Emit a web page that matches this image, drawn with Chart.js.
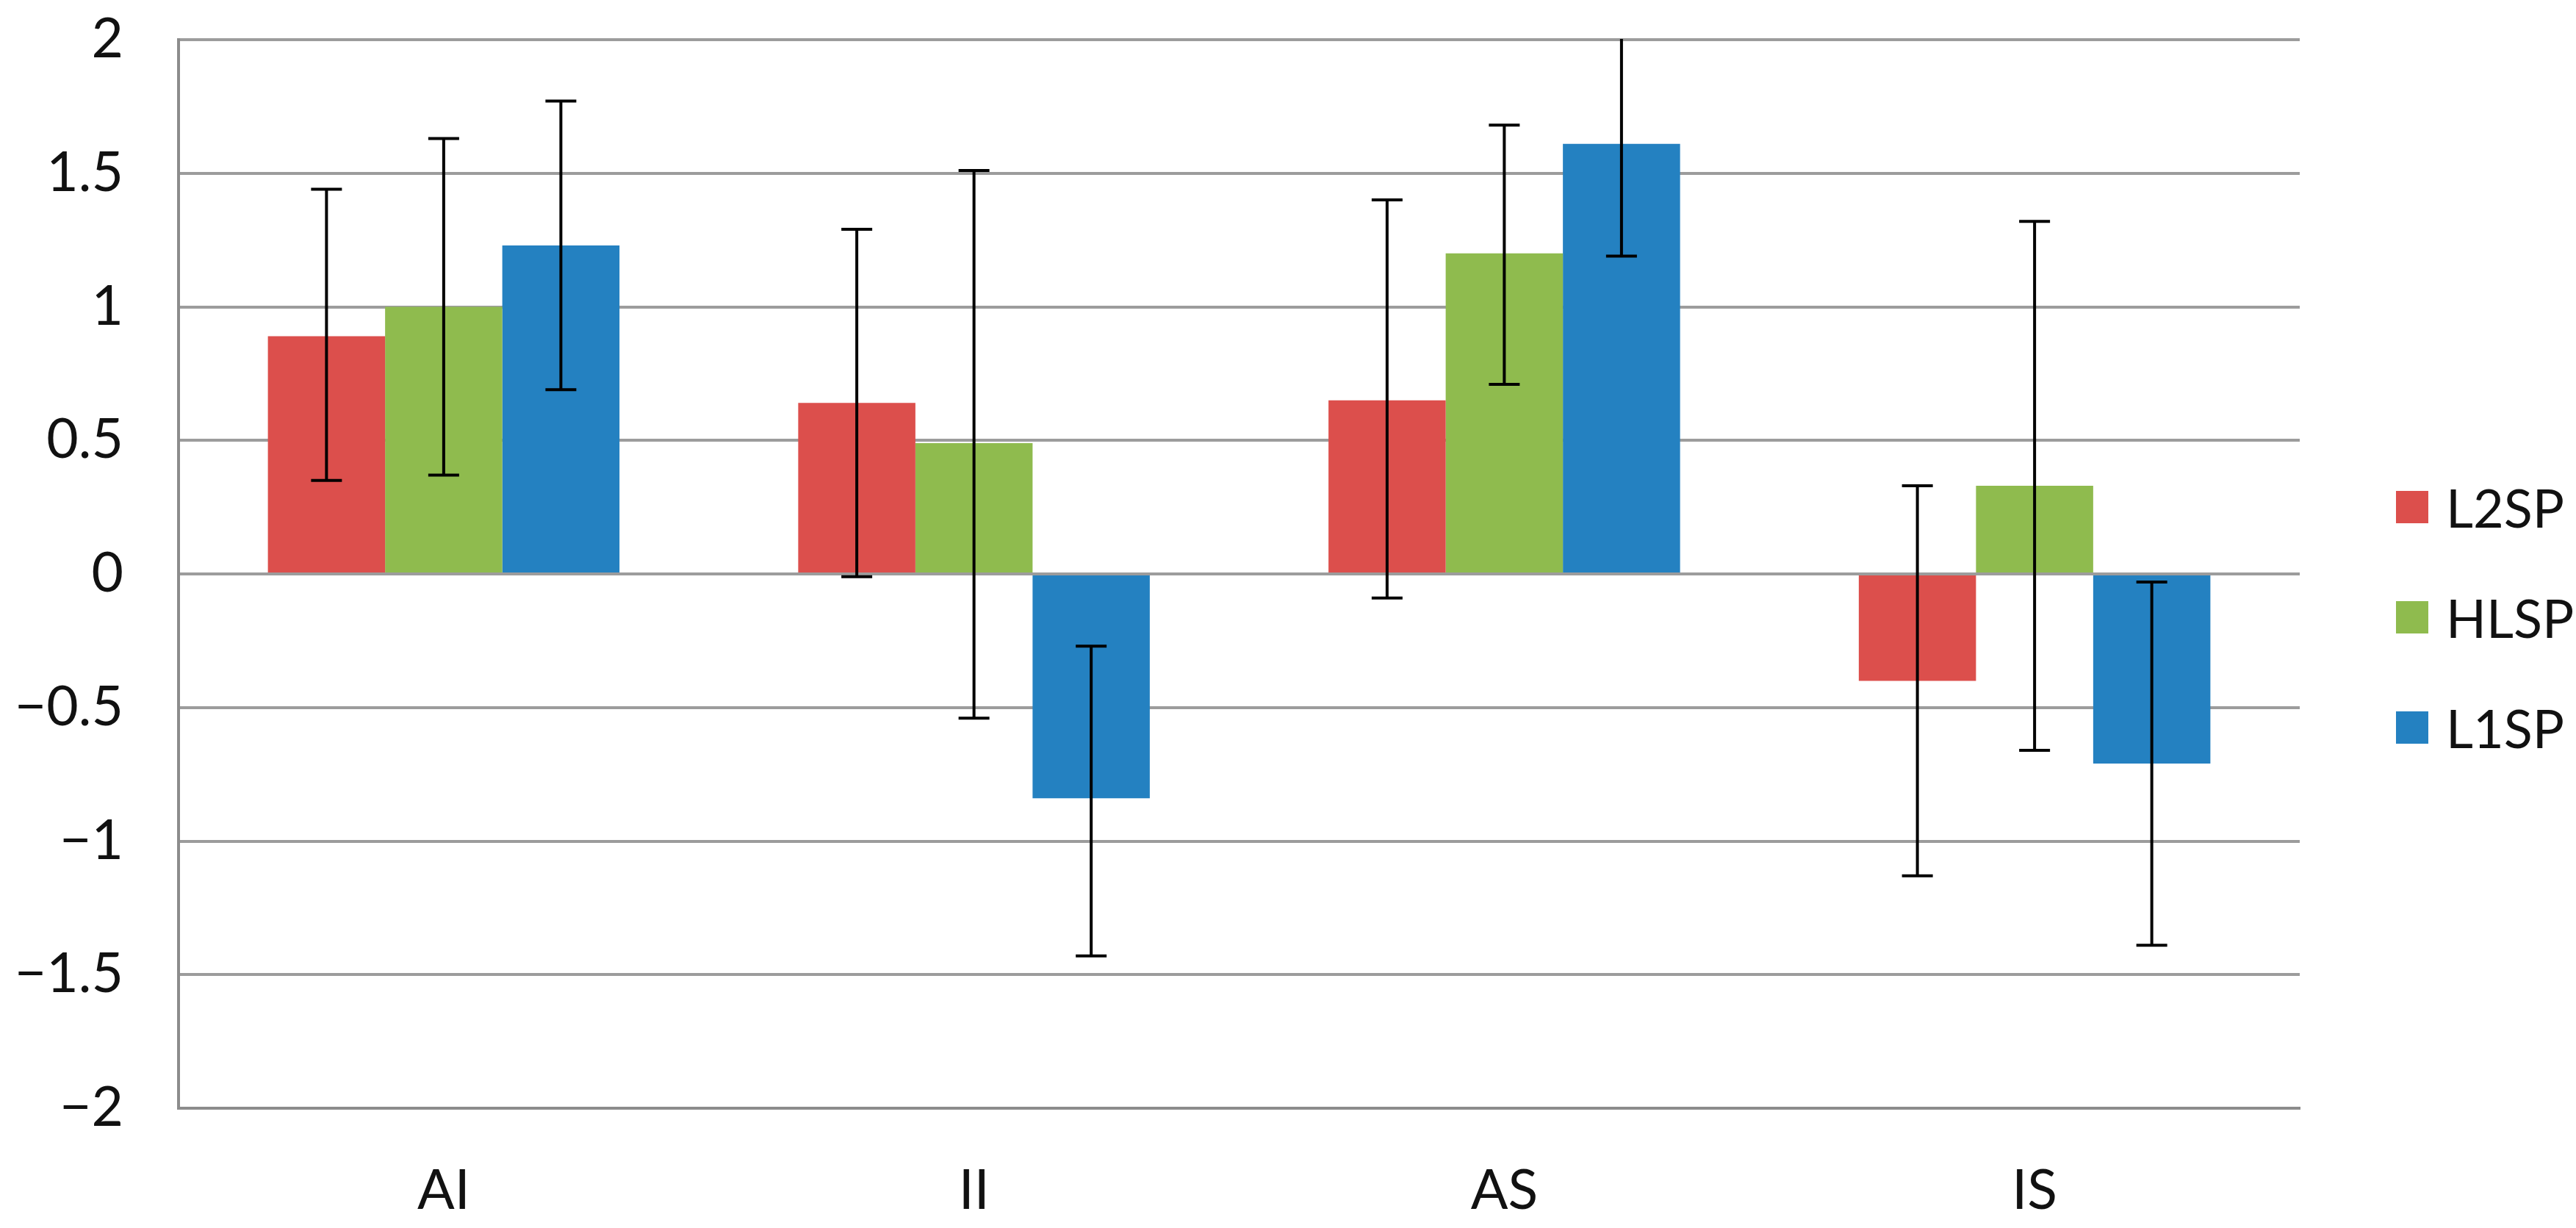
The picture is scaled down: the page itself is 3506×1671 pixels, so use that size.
<!DOCTYPE html>
<html>
<head>
<meta charset="utf-8">
<script src="https://cdn.jsdelivr.net/npm/chart.js@4.4.0/dist/chart.umd.min.js"></script>
<style>
  html, body { margin: 0; padding: 0; background: #ffffff; }
  #wrap { position: relative; width: 3506px; height: 1671px; }
  #legend { position: absolute; left: 3261px; top: 640px; font-family: Lato, "Open Sans", sans-serif; font-size: 72px; color: #111; }
  .item { display: flex; align-items: center; height: 100px; margin-bottom: 50px; }
  .swatch { width: 44px; height: 44px; margin-right: 24px; }
</style>
</head>
<body>
<div id="wrap">
  <canvas id="chart" width="3506" height="1671"></canvas>
  <div id="legend"></div>
</div>
<script>
// Categories and series
const categories = ["AI", "II", "AS", "IS"];
const seriesNames = ["L2SP", "HLSP", "L1SP"];
const seriesColors = ["#DC4F4C", "#8FBB4E", "#2481C1"];

const l2spValues = [0.89, 0.64, 0.65, -0.40];
const hlspValues = [1.00, 0.49, 1.20, 0.33];
const l1spValues = [1.23, -0.84, 1.61, -0.71];

// Error bar ranges (low / high)
const l2spLow = [0.35, -0.01, -0.09, -1.13];
const l2spHigh = [1.44, 1.29, 1.40, 0.33];
const hlspLow = [0.37, -0.54, 0.71, -0.66];
const hlspHigh = [1.63, 1.51, 1.68, 1.32];
const l1spLow = [0.69, -1.43, 1.19, -1.39];
const l1spHigh = [1.77, -0.27, 2.05, -0.03];

const yTicks = [-2, -1.5, -1, -0.5, 0, 0.5, 1, 1.5, 2];

const allValues = [l2spValues, hlspValues, l1spValues];
const allLow = [l2spLow, hlspLow, l1spLow];
const allHigh = [l2spHigh, hlspHigh, l1spHigh];

// Build legend
const legendEl = document.getElementById("legend");
seriesNames.forEach((name, i) => {
  const div = document.createElement("div");
  div.className = "item";
  div.innerHTML = `<span class="swatch" style="background:${seriesColors[i]}"></span><span>${name}</span>`;
  legendEl.appendChild(div);
});

// Plugin: draws error bars through the y scale
const errorBarPlugin = {
  id: "errorBars",
  afterDatasetsDraw(chart) {
    const ctx = chart.ctx;
    const yScale = chart.scales.y;
    const area = chart.chartArea;
    ctx.save();
    ctx.beginPath();
    ctx.rect(area.left, area.top - 1, area.right - area.left, area.bottom - area.top + 2);
    ctx.clip();
    ctx.strokeStyle = "#000000";
    ctx.lineWidth = 4;
    chart.data.datasets.forEach((ds, di) => {
      const meta = chart.getDatasetMeta(di);
      meta.data.forEach((bar, i) => {
        const x = bar.x;
        const yLo = yScale.getPixelForValue(allLow[di][i]);
        const yHi = yScale.getPixelForValue(allHigh[di][i]);
        const cap = 21;
        ctx.beginPath();
        ctx.moveTo(x, yLo);
        ctx.lineTo(x, yHi);
        ctx.moveTo(x - cap, yLo);
        ctx.lineTo(x + cap, yLo);
        ctx.moveTo(x - cap, yHi);
        ctx.lineTo(x + cap, yHi);
        ctx.stroke();
      });
    });
    ctx.restore();
  }
};

const fmt = v => (v < 0 ? "\u2212" + Math.abs(v) : String(v));

new Chart(document.getElementById("chart").getContext("2d"), {
  type: "bar",
  data: {
    labels: categories,
    datasets: seriesNames.map((name, i) => ({
      label: name,
      data: allValues[i],
      backgroundColor: seriesColors[i],
      borderWidth: 0,
      barPercentage: 1.0,
      categoryPercentage: 0.663
    }))
  },
  options: {
    responsive: false,
    devicePixelRatio: 1,
    animation: false,
    layout: {
      padding: { left: 0, right: 376, top: 54, bottom: 0 }
    },
    plugins: {
      legend: { display: false },
      tooltip: { enabled: false }
    },
    scales: {
      x: {
        afterFit(scale) {
          scale.height = 163;
          scale.paddingLeft = 0;
          scale.paddingRight = 0;
        },
        grid: { display: false, drawTicks: false },
        border: { display: true, color: "#8c8c8c", width: 4 },
        ticks: {
          color: "#111111",
          padding: 68,
          font: { family: "Lato", size: 75 }
        }
      },
      y: {
        min: -2,
        max: 2,
        afterFit(scale) {
          scale.width = 243;
          scale.paddingTop = 0;
          scale.paddingBottom = 0;
        },
        afterBuildTicks(scale) { scale.ticks = yTicks.map(v => ({ value: v })); },
        grid: { color: "#9c9c9c", lineWidth: 4, drawTicks: false },
        border: { display: true, color: "#8c8c8c", width: 4 },
        ticks: {
          color: "#111111",
          padding: 75,
          font: { family: "Lato", size: 75 },
          callback: v => fmt(v)
        }
      }
    }
  },
  plugins: [errorBarPlugin]
});
</script>
</body>
</html>
